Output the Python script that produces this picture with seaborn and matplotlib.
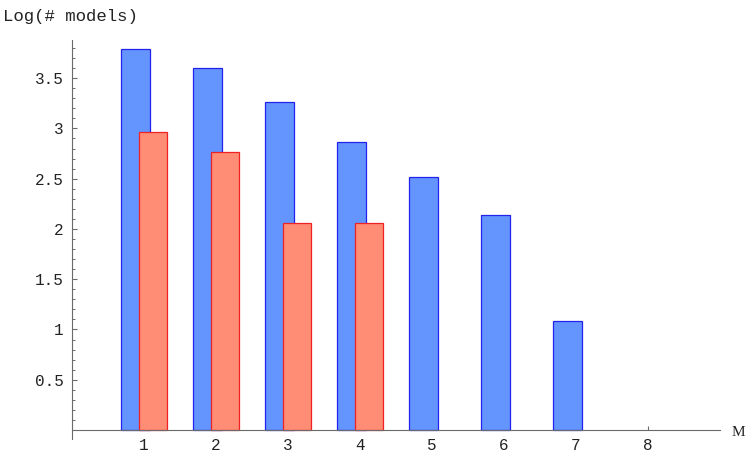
import matplotlib
matplotlib.use("Agg")
import matplotlib.pyplot as plt
import seaborn as sns
import pandas as pd
from matplotlib.ticker import FixedLocator, FuncFormatter

# ---- data ----
m_values = [1, 2, 3, 4, 5, 6, 7]
blue_log_models = [3.79, 3.60, 3.26, 2.87, 2.52, 2.14, 1.08]
m_values_red = [1, 2, 3, 4]
red_log_models = [2.96, 2.77, 2.06, 2.06]
x_tick_values = [1, 2, 3, 4, 5, 6, 7, 8]
y_tick_values = [0.5, 1, 1.5, 2, 2.5, 3, 3.5]

# ---- style ----
sns.set_style("white")
plt.rcParams["font.family"] = ["Liberation Mono", "DejaVu Sans Mono"]

blue_fill, blue_edge = "#6495FF", "#2222EE"
red_fill, red_edge = "#FF8C75", "#EE2222"
axis_gray = "#6a6a6a"
blue_shift, red_shift = -0.115, 0.125

df_blue = pd.DataFrame({"M": [m + blue_shift for m in m_values], "v": blue_log_models})
df_red = pd.DataFrame({"M": [m + red_shift for m in m_values_red], "v": red_log_models})

fig = plt.figure(figsize=(7.47, 4.62), dpi=100)
ax = fig.add_axes([72 / 747, 23 / 462, 648 / 747, 399 / 462])

sns.barplot(data=df_blue, x="M", y="v", native_scale=True, width=0.4,
            color=blue_fill, saturation=1, edgecolor=blue_edge, linewidth=0.9,
            errorbar=None, ax=ax)
sns.barplot(data=df_red, x="M", y="v", native_scale=True, width=0.4,
            color=red_fill, saturation=1, edgecolor=red_edge, linewidth=0.9,
            errorbar=None, ax=ax)

ax.set_xlim(0, 9)
ax.set_ylim(-0.09, 3.88)
ax.set_xlabel("")
ax.set_ylabel("")

for s in ["top", "right"]:
    ax.spines[s].set_visible(False)
for s in ["left", "bottom"]:
    ax.spines[s].set_position(("data", 0))
    ax.spines[s].set_color(axis_gray)
    ax.spines[s].set_linewidth(0.8)
    ax.spines[s].set_zorder(5)

ax.xaxis.set_major_locator(FixedLocator(x_tick_values))
ax.xaxis.set_major_formatter(FuncFormatter(lambda v, p: "%g" % v))
ax.yaxis.set_major_locator(FixedLocator(y_tick_values))
ax.yaxis.set_major_formatter(FuncFormatter(lambda v, p: "%g" % v))
minor_y = [round(0.1 * i, 1) for i in range(1, 39) if i % 5 != 0]
ax.yaxis.set_minor_locator(FixedLocator(minor_y))

ax.tick_params(axis="x", which="major", direction="in", length=3.2, width=0.8,
               color=axis_gray, labelsize=11.5, labelcolor="#222222", pad=6)
ax.tick_params(axis="y", which="major", direction="in", length=3.8, width=0.8,
               color=axis_gray, labelsize=11.5, labelcolor="#222222", pad=6)
ax.tick_params(axis="y", which="minor", direction="in", length=2.2, width=0.7,
               color=axis_gray, left=True)
ax.tick_params(axis="x", which="major", bottom=True)
ax.tick_params(axis="y", which="major", left=True)

fig.text(3 / 747, 1 - 16 / 462, "Log(# models)", fontsize=12.5, color="#222222",
         ha="left", va="center")
fig.text(745 / 747, 1 - 432 / 462, "M", fontsize=11, color="#222222",
         ha="right", va="center", family=["Liberation Serif", "DejaVu Serif"])

fig.savefig("out.png", dpi=100)
